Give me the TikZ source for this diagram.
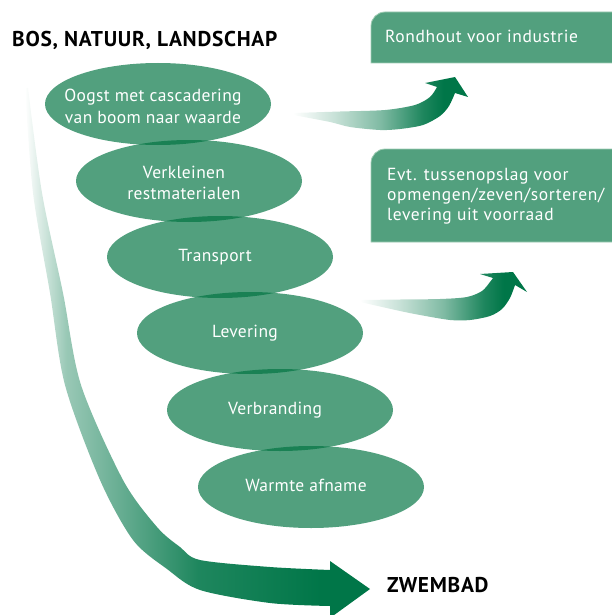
\documentclass[tikz,border=0pt]{standalone}
\usepackage{fontspec}
\setmainfont{PT Sans}
\newfontfamily\titlefont[LetterSpace=3.3]{PT Sans}
\newfontfamily\ellfont[LetterSpace=2]{PT Sans}
\newfontfamily\boxfont[LetterSpace=3.5]{PT Sans}
\usetikzlibrary{shapes.geometric}
\definecolor{dkg}{RGB}{0,118,72}
\definecolor{elc}{RGB}{0,115,65}
\definecolor{boxc}{RGB}{82,160,126}
\definecolor{boxedge}{RGB}{160,205,180}
\colorlet{dkgA}{dkg!40!white}
\colorlet{dkgB}{dkg!88!white}
\colorlet{dkgC}{dkg!22!white}
\colorlet{dkgD}{dkg!50!white}
\pgfdeclarehorizontalshading{bigarr}{100bp}{color(0bp)=(white); color(25bp)=(white); color(31bp)=(dkgA); color(50bp)=(dkgB); color(68bp)=(dkg); color(100bp)=(dkg)}
\pgfdeclarehorizontalshading{smallarr}{100bp}{color(0bp)=(white); color(25bp)=(white); color(37bp)=(dkgC); color(50bp)=(dkgD); color(62bp)=(dkgB); color(68bp)=(dkg); color(100bp)=(dkg)}
\tikzset{
  stage/.style={ellipse, fill=elc, fill opacity=0.678, minimum width=226pt, minimum height=82pt, inner sep=0pt},
  stxt/.style={text=white, font=\ellfont\fontsize{17.5}{21}\selectfont, anchor=base, inner sep=0pt},
  btxt/.style={text=white, font=\boxfont\fontsize{17.5}{21}\selectfont, anchor=base west, inner sep=0pt},
  heading/.style={text=black, font=\titlefont\bfseries\fontsize{21.4}{24}\selectfont, anchor=base west, inner sep=0pt},
  infobox/.style={fill=boxc, draw=boxedge, line width=0.8pt}
}
\begin{document}
\begin{tikzpicture}[x=1pt,y=-1pt]
\useasboundingbox (0,0) rectangle (611,615);
% big arrow
\shade[shading=bigarr] plot[smooth] coordinates {(25,88) (33,193) (50,293) (65,385) (100,480) (133,540) (167,569) (200,590) (270,603) (330,606)}
  -- (330,618) -- (370,589) -- (330,561)
  -- plot[smooth] coordinates {(330,570) (270,567) (200,560) (180,547) (157,527) (123,480) (81,385) (63,293) (42,193) (28,88)} -- cycle;
% small arrows
\shade[shading=smallarr] plot[smooth] coordinates {(293,113) (340,111.5) (385,110) (415,105) (430,97) (437,87)}
  -- (425,83) -- (455,77) -- (468,97)
  -- plot[smooth] coordinates {(455,93) (449,106) (440,116) (423,125) (400,129) (380,130) (350,127) (330,122) (293,115)} -- cycle;
\shade[shading=smallarr] plot[smooth] coordinates {(360,300) (400,299.5) (440,299) (467,297) (482,291) (490,282) (493,278)}
  -- (480,274) -- (513,272) -- (527,292)
  -- plot[smooth] coordinates {(515,285) (510,298) (502,309) (490,316) (470,320) (450,320) (420,315) (400,311) (360,302)} -- cycle;
% boxes
\path[infobox] (371,63) -- (371,26) arc[start angle=180, end angle=90, radius=14pt] -- (640,12) -- (640,63) -- cycle;
\path[infobox] (371,242) -- (371,163) arc[start angle=180, end angle=90, radius=14pt] -- (640,149) -- (640,242) -- cycle;
\node[btxt] (b1) at (385,43) {Rondhout voor industrie};
\node[btxt] (b2a) at (387,180) {Evt. tussenopslag voor};
\node[btxt] (b2b) at (387,200) {opmengen/zeven/sorteren/};
\node[btxt] (b2c) at (387,220) {levering uit voorraad};
% ellipses
\node[stage] (e1) at (158,104) {};
\node[stage] (e2) at (189,181) {};
\node[stage] (e3) at (220,257) {};
\node[stage] (e4) at (250,333) {};
\node[stage] (e5) at (280,410) {};
\node[stage] (e6) at (311,487) {};
\node[stxt] (e1a) at (153,102) {Oogst met cascadering};
\node[stxt] (e1b) at (153,123) {van boom naar waarde};
\node[stxt] (e2a) at (184,178) {Verkleinen};
\node[stxt] (e2b) at (184,199) {restmaterialen};
\node[stxt] (e3a) at (215,261) {Transport};
\node[stxt] (e4a) at (245,337) {Levering};
\node[stxt] (e5a) at (275,414) {Verbranding};
\node[stxt] (e6a) at (306,491) {Warmte afname};
% headings
\node[heading] (title) at (12,47) {BOS, NATUUR, LANDSCHAP};
\node[heading] (pool) at (387,592) {ZWEMBAD};
\end{tikzpicture}
\end{document}
